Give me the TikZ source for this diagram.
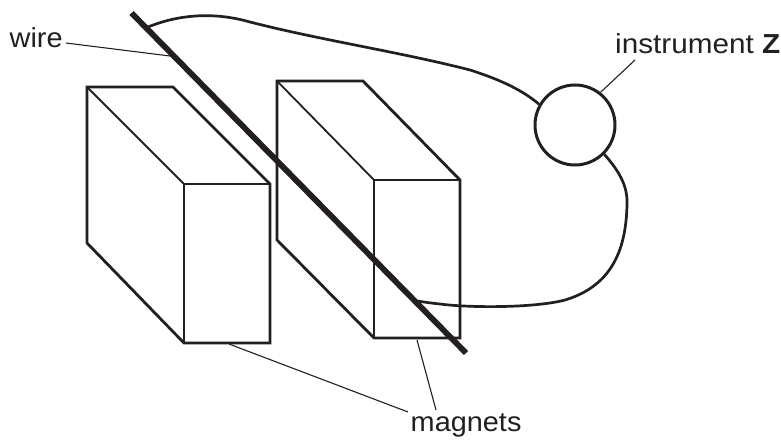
\documentclass[tikz,border=0pt]{standalone}
\usepackage{fontspec}
\setmainfont{Liberation Sans}
\definecolor{ink}{HTML}{231F20}
\tikzset{
  x=1pt,y=-1pt,
  magnet/.style={draw=ink,line width=2.8pt,line join=miter},
  edgeline/.style={draw=ink,line width=1.8pt},
  wirebar/.style={draw=ink,line width=5.8pt},
  lead/.style={draw=ink,line width=2.7pt},
  leader/.style={draw=ink,line width=1.1pt},
  lbl/.style={inner sep=0pt,text=ink,font=\fontsize{27.5}{30}\selectfont,anchor=base west}
}
\begin{document}
\begin{tikzpicture}
\useasboundingbox (0,0) rectangle (781,441);
% labels
\node[lbl] (wirelbl) at (9.5,48) {\addfontfeature{FakeStretch=1.05}wire};
\node[lbl] (instlbl) at (615,54) {\addfontfeature{FakeStretch=1.08}instrument \textbf{Z}};
\node[lbl] (maglbl) at (410.5,431) {\addfontfeature{FakeStretch=1.05}magnets};
% left magnet
\coordinate (la) at (87,87);
\coordinate (lb) at (173,87);
\coordinate (lc) at (270,184);
\coordinate (ld) at (270,343);
\coordinate (le) at (184,343);
\coordinate (lf) at (87,243);
\coordinate (lg) at (184,184);
\draw[magnet] (la) -- (lb) -- (lc) -- (ld) -- (le) -- (lf) -- cycle;
\draw[edgeline] (la) -- (lg);
\draw[edgeline] (lg) -- (lc);
\draw[edgeline] (lg) -- (le);
% right magnet
\coordinate (ra) at (277,81);
\coordinate (rb) at (363,81);
\coordinate (rc) at (460,180);
\coordinate (rd) at (460,338);
\coordinate (re) at (374,338);
\coordinate (rf) at (277,240);
\coordinate (rg) at (374,180);
\draw[magnet] (ra) -- (rb) -- (rc) -- (rd) -- (re) -- (rf) -- cycle;
\draw[edgeline] (ra) -- (rg);
\draw[edgeline] (rg) -- (rc);
\draw[edgeline] (rg) -- (re);
% wire bar
\coordinate (wa) at (131.5,13);
\coordinate (wb) at (466,353);
\draw[wirebar] (wa) -- (wb);
% instrument
\node[circle,draw=ink,line width=3pt,minimum size=80pt,inner sep=0pt] (inst) at (575,125) {};
% leads
\coordinate (t1) at (148,27);
\coordinate (t2) at (417,301);
\draw[lead] (t1) .. controls (180,14) and (215,12) .. (250,22)
  .. controls (320,40) and (400,52) .. (470,70)
  .. controls (495,78) and (520,88) .. (inst.150);
\draw[lead] (inst.-45) .. controls (618,170) and (628,185) .. (627,205)
  .. controls (626,245) and (615,285) .. (565,300)
  .. controls (535,308) and (470,308) .. (440,304)
  .. controls (430,303) and (424,302) .. (t2);
% leaders
\coordinate (w1) at (66,43);
\coordinate (w2) at (170,56);
\draw[leader] (w1) -- (w2);
\coordinate (i1) at (635,60);
\draw[leader] (i1) -- (inst.52);
\coordinate (m1) at (408,412);
\coordinate (m2) at (229,344);
\coordinate (m3) at (436,410);
\coordinate (m4) at (417,340);
\draw[leader] (m1) -- (m2);
\draw[leader] (m3) -- (m4);
\end{tikzpicture}
\end{document}
